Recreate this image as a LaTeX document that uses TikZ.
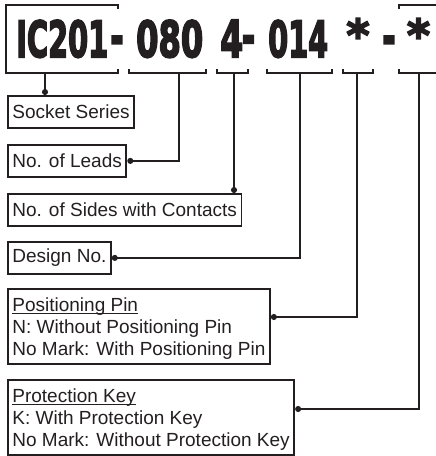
\documentclass[tikz,border=0pt]{standalone}
\usepackage{fontspec}
\setmainfont{Liberation Sans}
\newfontfamily\bigf{DejaVu Sans Bold}[FakeBold=4]
\usetikzlibrary{arrows.meta,calc}
\definecolor{ink}{HTML}{231F20}
\newcommand\ulx[1]{\setbox0\hbox{#1}\rlap{\rule[-1.8pt]{\wd0}{1pt}}\box0}
\tikzset{
  lbl/.style={draw=ink, line width=1.8pt, text=ink, font=\fontsize{19}{22}\selectfont,
    inner xsep=4.5pt, inner ysep=0pt, anchor=north west, minimum height=32pt},
  multi/.style={lbl, align=left, minimum height=0pt, text height=67pt, text depth=8pt},
  conn/.style={draw=ink, line width=1.5pt, arrows={{Circle[length=6pt]}-}},
  brk/.style={draw=ink, line width=1.7pt},
  big/.style={inner sep=0pt, anchor=base west, text=ink},
  star/.style={inner sep=0pt, anchor=north, text=ink, font=\fontsize{44}{44}\bigf},
  hyphbox/.style={inner sep=0pt, anchor=north, text=ink}
}
\newcommand\bighyph{\scalebox{1}[1.6]{\fontsize{32}{32}\bigf -}}
\begin{document}
\begin{tikzpicture}[x=1pt,y=-1pt]
\useasboundingbox (0,0) rectangle (436,456);
% part number text
\node[big] (tic) at (16,57) {\resizebox{92pt}{37pt}{\bigf IC201}};
\node[hyphbox] (dic) at (117,36) {\bighyph};
\node[big] (t080) at (136,57) {\resizebox{67pt}{37pt}{\bigf 080}};
\node[big] (t4) at (220,57) {\resizebox{23pt}{37pt}{\bigf 4}};
\node[hyphbox] (d4) at (248.5,35.5) {\bighyph};
\node[big] (t014) at (268,57) {\resizebox{60pt}{37pt}{\bigf 014}};
\node[star] (ts1) at (358,18) {*};
\node[hyphbox] (tdash) at (389,36) {\bighyph};
\node[star] (ts2) at (418.5,18) {*};
% brackets
\draw[brk] (118,9) -- (118,5) -- (6,5) -- (6,73) -- (118,73) -- (118,69);
\draw[brk] (129,69) -- (129,73) -- (206,73) -- (206,69);
\draw[brk] (217,69) -- (217,73) -- (248,73) -- (248,69);
\draw[brk] (267,69) -- (267,73) -- (332,73) -- (332,69);
\draw[brk] (343,69) -- (343,73) -- (373,73) -- (373,69);
\draw[brk] (399,69) -- (399,73) -- (440,73);
\draw[brk] (399,9) -- (399,5) -- (440,5);
\coordinate (cic) at (45,73);
\coordinate (c080) at (179,73);
\coordinate (c4) at (234,73);
\coordinate (c014) at (300,73);
\coordinate (cs1) at (357,73);
\coordinate (cs2) at (419,73);
% boxes
\node[lbl] (sock) at (7,95) {Socket Series};
\node[lbl] (leads) at (7,144) {No. of Leads};
\node[lbl] (sides) at (7,193) {No. of Sides with Contacts};
\node[lbl] (design) at (7,241) {Design No.};
\node[multi] (pos) at (7,288) {\ulx{Positioning Pin}\\N: Without Positioning Pin\\No Mark: With Positioning Pin};
\node[multi] (prot) at (7,379) {\ulx{Protection Key}\\K: With Protection Key\\No Mark: Without Protection Key};
% connectors
\draw[conn] (sock.north -| cic) -- (cic);
\draw[conn] (leads.east) -| (c080);
\draw[conn] (sides.north -| c4) -- (c4);
\draw[conn] (design.east) -| (c014);
\draw[conn] ([yshift=-29pt]pos.north east) -| (cs1);
\draw[conn] ([yshift=-30pt]prot.north east) -| (cs2);
\end{tikzpicture}
\end{document}
